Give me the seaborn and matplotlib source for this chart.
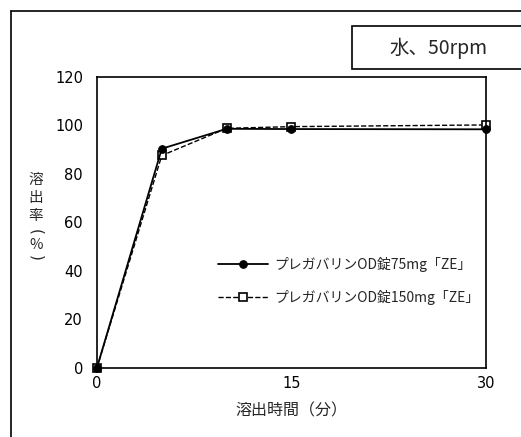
import matplotlib
matplotlib.use("Agg")
import matplotlib.pyplot as plt
import seaborn as sns
import pandas as pd
from matplotlib.patches import Rectangle
from matplotlib.lines import Line2D

# dissolution data (minutes, %)
times = [0, 5, 10, 15, 30]
od_75mg = [0, 90.4, 98.6, 98.5, 98.4]
od_150mg = [0, 87.6, 98.8, 99.5, 100.2]
labels = ["プレガバリンOD錠75mg「ZE」", "プレガバリンOD錠150mg「ZE」"]
x_ticks = [0, 15, 30]
y_ticks = [0, 20, 40, 60, 80, 100, 120]
ylabel_chars = ["溶", "出", "率", "(", "%", ")"]

sns.set_style("white")
plt.rcParams['font.family'] = ['Noto Sans CJK JP', 'DejaVu Sans']

df = pd.DataFrame({"time": times, "a": od_75mg, "b": od_150mg})

fig = plt.figure(figsize=(5.21, 4.37), dpi=100)
ax = fig.add_axes([0.186, 0.158, 0.747, 0.666])

sns.lineplot(data=df, x="time", y="b", ax=ax, color="black", linestyle="--",
             linewidth=1.0, marker="s", markersize=7, markerfacecolor="white",
             markeredgecolor="black", markeredgewidth=1.2, label=labels[1],
             clip_on=False)
sns.lineplot(data=df, x="time", y="a", ax=ax, color="black", linestyle="-",
             linewidth=1.3, marker="o", markersize=8.5, markerfacecolor="black",
             markeredgecolor="black", label=labels[0], clip_on=False)

ax.set_xlim(0, 30)
ax.set_ylim(0, 120)
ax.set_xticks(x_ticks)
ax.set_yticks(y_ticks)
ax.tick_params(direction="in", length=4, width=1, colors="black", labelsize=10.5)
ax.tick_params(axis="y", pad=10)
ax.tick_params(axis="x", pad=6)
for s in ax.spines.values():
    s.set_color("black")
    s.set_linewidth(1.2)
for lbl in ax.get_xticklabels() + ax.get_yticklabels():
    lbl.set_family(['DejaVu Sans'])

ax.set_xlabel("溶出時間（分）", fontsize=11.5, labelpad=8)
ax.set_ylabel("")

# stacked vertical y label, one glyph per row (pixel rows from top);
# brackets are turned to their vertical form
ylabel_rows = [180, 198, 216, 232, 245, 258]
for ch, row in zip(ylabel_chars, ylabel_rows):
    if ch in "()":
        fig.text(36 / 521, 1 - row / 437, ch, fontsize=11, rotation=-90,
                 family=['DejaVu Sans'], ha="center", va="center")
    else:
        fig.text(36 / 521, 1 - row / 437, ch, fontsize=10.5,
                 ha="center", va="center")

handles, lbls = ax.get_legend_handles_labels()
for h in handles:
    h.set_markersize(5.5)
leg = ax.legend(handles[::-1], lbls[::-1], loc="center left",
                bbox_to_anchor=(0.278, 0.30), frameon=False, fontsize=10,
                handlelength=3.6, handletextpad=0.5, labelspacing=1.3)

# outer frame (cropped on right/bottom)
fig.add_artist(Line2D([11 / 521, 11 / 521], [0, 1 - 11 / 437], color="black", lw=1.2))
fig.add_artist(Line2D([11 / 521, 1], [1 - 11 / 437, 1 - 11 / 437], color="black", lw=1.2))

# condition box
fig.add_artist(Rectangle((352 / 521, 1 - 69 / 437), 0.4, 43 / 437,
                         transform=fig.transFigure, facecolor="white",
                         edgecolor="black", lw=1.2))
fig.text(438 / 521, 1 - 48 / 437, "水、50rpm", fontsize=14, ha="center", va="center")

fig.savefig("out.png", dpi=100)
